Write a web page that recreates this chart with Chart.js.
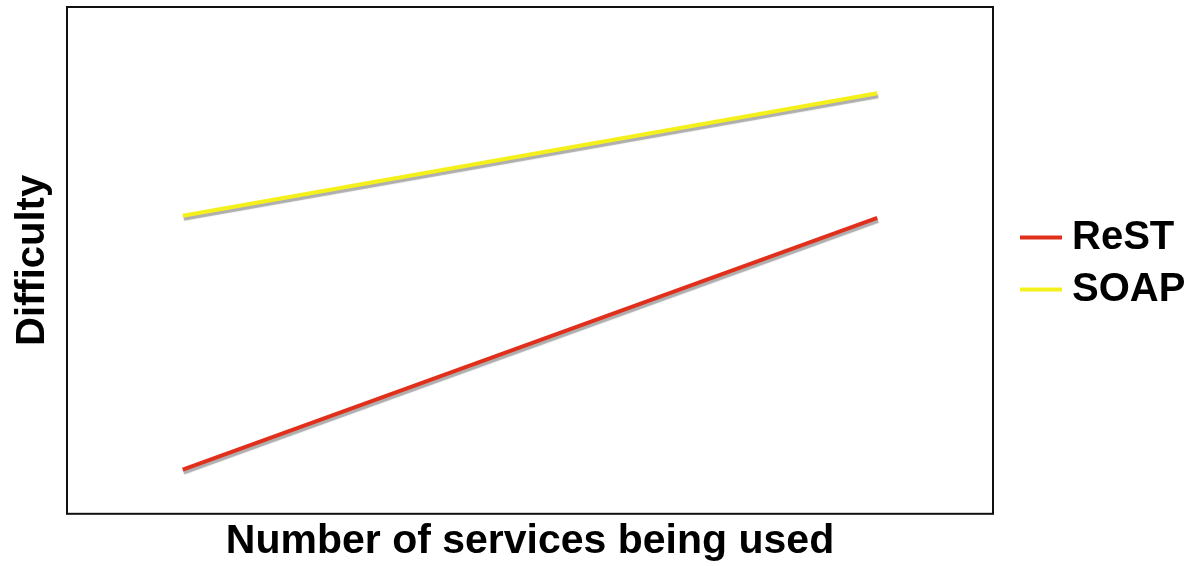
<!DOCTYPE html>
<html>
<head>
<meta charset="utf-8">
<script src="https://cdn.jsdelivr.net/npm/chart.js@4/dist/chart.umd.min.js"></script>
<style>
  html, body { margin: 0; padding: 0; background: #fff; }
  #wrap { width: 1191px; height: 566px; }
</style>
</head>
<body>
<div id="wrap"><canvas id="chart"></canvas></div>
<script>
// two points per series: few services vs many services
const xPositions = [1, 7];
const restValues = [8.7, 58.4];
const soapValues = [58.8, 83.0];
const seriesLabels = ["ReST", "SOAP"];

const FONT = "Liberation Sans, Arial, sans-serif";

// draw the black frame around the plot
const framePlugin = {
  id: "frame",
  afterDraw(chart) {
    const { ctx, chartArea } = chart;
    ctx.save();
    ctx.strokeStyle = "#111";
    ctx.lineWidth = 2;
    ctx.strokeRect(chartArea.left, chartArea.top, chartArea.right - chartArea.left, chartArea.bottom - chartArea.top);
    ctx.restore();
  },
};

// soft grey drop shadow under the lines
const shadowPlugin = {
  id: "lineShadow",
  beforeDatasetsDraw(chart) {
    const ctx = chart.ctx;
    ctx.save();
    ctx.shadowColor = "rgba(120,120,120,0.6)";
    ctx.shadowOffsetX = 1;
    ctx.shadowOffsetY = 3;
    ctx.shadowBlur = 1;
  },
  afterDatasetsDraw(chart) {
    chart.ctx.restore();
  },
};

// legend to the right of the frame, centred on the plot
const sideLegend = {
  id: "sideLegend",
  afterDraw(chart) {
    const { ctx, chartArea } = chart;
    const sets = chart.data.datasets;
    const rowGap = 52;
    const midY = (chartArea.top + chartArea.bottom) / 2 + 3;
    const startY = midY - ((sets.length - 1) * rowGap) / 2;
    const lineX = chartArea.right + 27;
    ctx.save();
    ctx.font = "bold 40px " + FONT;
    ctx.textBaseline = "middle";
    ctx.fillStyle = "#000";
    sets.forEach((ds, i) => {
      const y = startY + i * rowGap;
      ctx.strokeStyle = ds.borderColor;
      ctx.lineWidth = 4;
      ctx.beginPath();
      ctx.moveTo(lineX, y);
      ctx.lineTo(lineX + 42, y);
      ctx.stroke();
      ctx.fillText(ds.label, lineX + 52, y + 1);
    });
    ctx.restore();
  },
};

const toPoints = (vals) => vals.map((v, i) => ({ x: xPositions[i], y: v }));

new Chart(document.getElementById("chart"), {
  type: "line",
  data: {
    datasets: [
      {
        label: seriesLabels[0],
        data: toPoints(restValues),
        borderColor: "#e0301c",
        backgroundColor: "#e0301c",
        borderWidth: 4,
        pointRadius: 0,
      },
      {
        label: seriesLabels[1],
        data: toPoints(soapValues),
        borderColor: "#f4f01c",
        backgroundColor: "#f4f01c",
        borderWidth: 4,
        pointRadius: 0,
      },
    ],
  },
  options: {
    responsive: true,
    maintainAspectRatio: false,
    animation: false,
    layout: { padding: { top: 7, left: 9, right: 198, bottom: 0 } },
    plugins: {
      tooltip: { enabled: false },
      legend: { display: false },
    },
    scales: {
      x: {
        type: "linear",
        min: 0,
        max: 8,
        grid: { display: false, drawTicks: false },
        border: { display: false },
        ticks: { display: false },
        title: {
          display: true,
          text: "Number of services being used",
          color: "#000",
          padding: { top: 3, bottom: 0 },
          font: { family: FONT, size: 41, weight: "bold" },
        },
      },
      y: {
        min: 0,
        max: 100,
        grid: { display: false, drawTicks: false },
        border: { display: false },
        ticks: { display: false },
        title: {
          display: true,
          text: "Difficulty",
          color: "#000",
          padding: { top: 0, bottom: 10 },
          font: { family: FONT, size: 40, weight: "bold" },
        },
      },
    },
  },
  plugins: [shadowPlugin, framePlugin, sideLegend],
});
</script>
</body>
</html>
